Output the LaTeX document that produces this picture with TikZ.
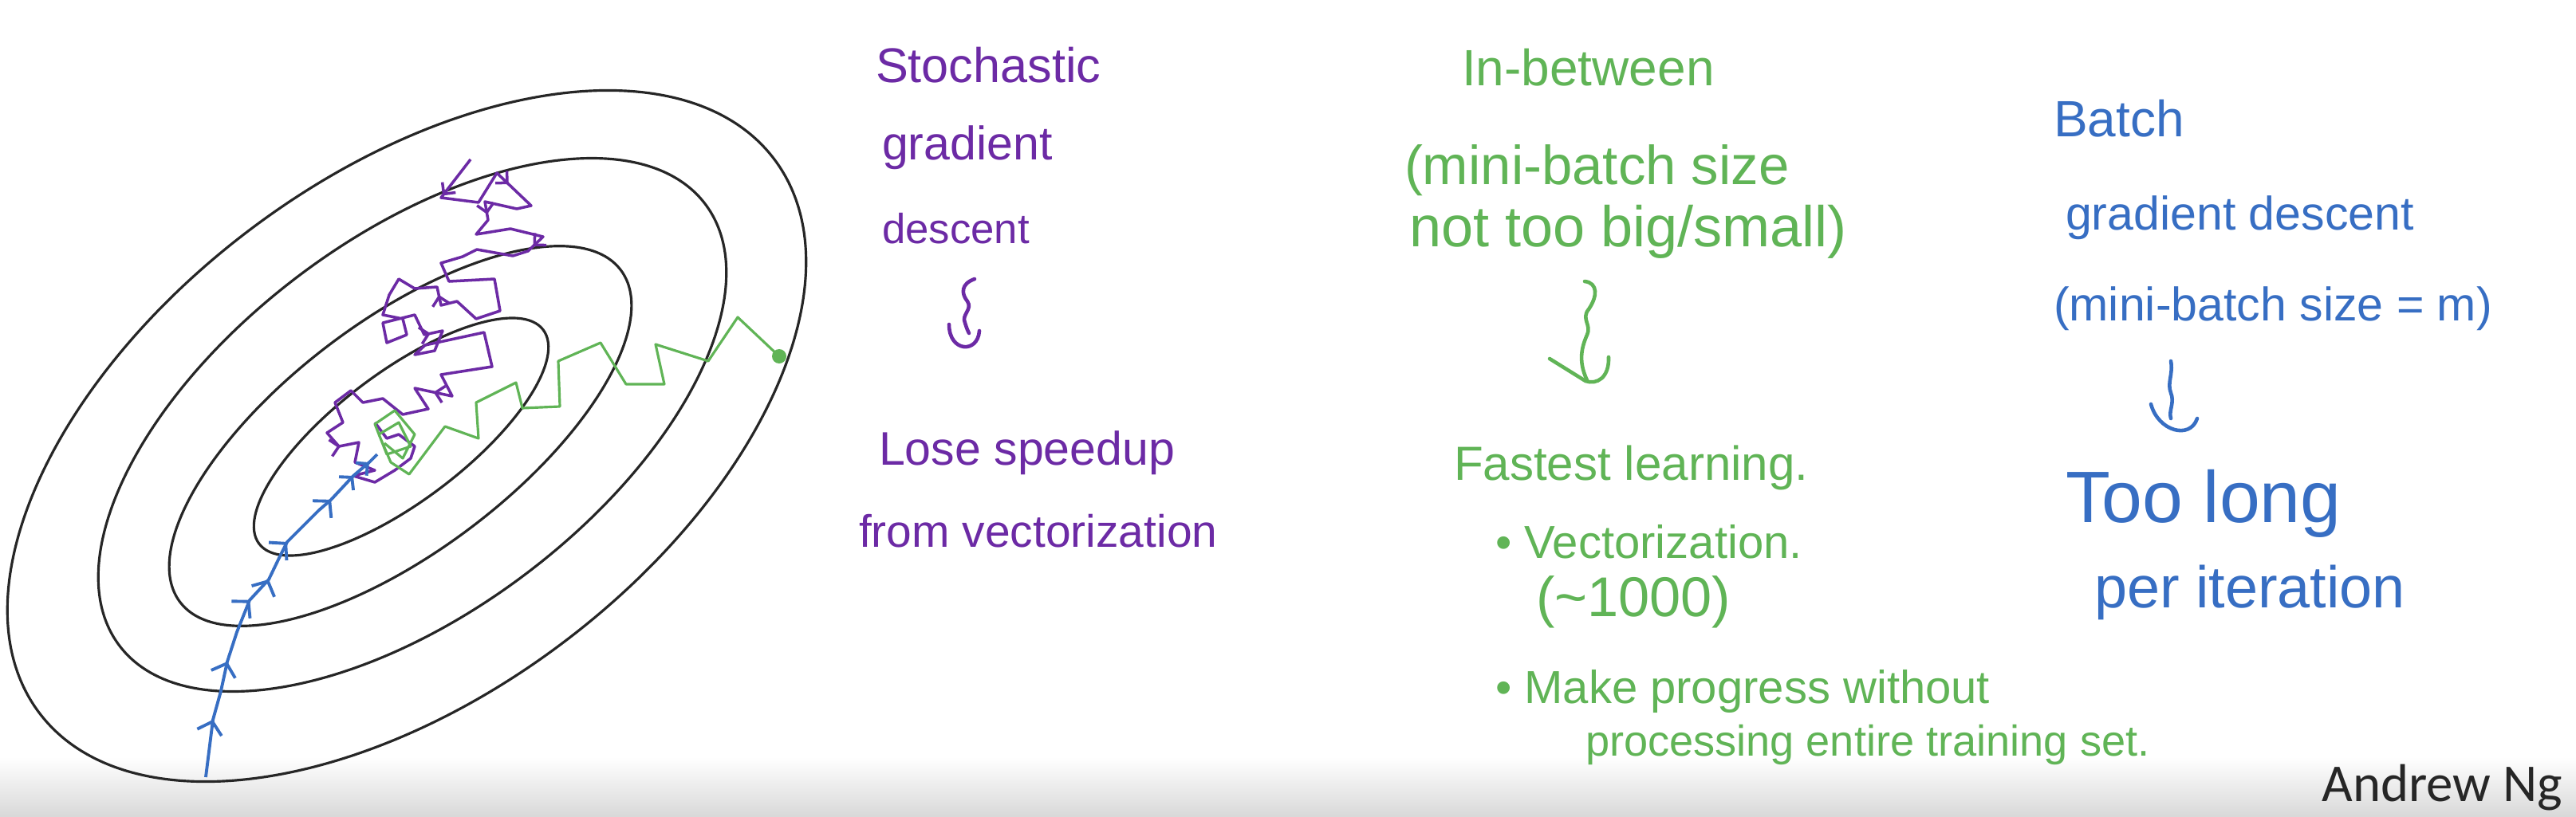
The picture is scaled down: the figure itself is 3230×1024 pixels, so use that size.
\documentclass[tikz,border=0pt]{standalone}
\usepackage{fontspec}
\setmainfont{Liberation Sans}
\newfontfamily\ngfont{Carlito}
\usetikzlibrary{decorations.markings,arrows.meta}
\definecolor{purp}{RGB}{108,42,165}
\definecolor{grn}{RGB}{96,180,86}
\definecolor{blu}{RGB}{55,110,195}
\newcommand{\tsz}[1]{\fontsize{#1}{#1}\selectfont}
\begin{document}
\begin{tikzpicture}[x=0.01cm,y=-0.01cm,
  contour/.style={line width=0.9pt, black!85},
  bpath/.style={blu, line width=1.1pt, line join=round},
  ppath/.style={purp, line width=1pt, line join=round},
  gpath/.style={grn, line width=0.9pt, line join=round},
  lbl/.style={anchor=base west, inner sep=0pt, outer sep=0pt},
  ptxt/.style={lbl, text=purp},
  gtxt/.style={lbl, text=grn},
  btxt/.style={lbl, text=blu},
  sqline/.style={line width=1.3pt, line cap=round, line join=round}
]
\useasboundingbox (0,0) rectangle (3230,1024);
\fill[white] (0,0) rectangle (3230,1024);
\shade[top color=white, bottom color=black!15] (0,950) rectangle (3230,1024);

% contours
\draw[contour, rotate around={37:(510,547)}] (510,547) ellipse [x radius=577, y radius=325];
\draw[contour, rotate around={37:(517,533)}] (517,533) ellipse [x radius=460, y radius=235];
\draw[contour, rotate around={37:(502,547)}] (502,547) ellipse [x radius=346, y radius=145];
\draw[contour, rotate around={37:(503,548)}] (503,548) ellipse [x radius=223, y radius=81];

% stochastic path (purple)
\draw[ppath, postaction={decorate}, decoration={markings,
    mark=at position 0.03 with {\arrow{Straight Barb[length=3pt,width=6pt]}},
    mark=at position 0.09 with {\arrow{Straight Barb[length=3pt,width=6pt]}},
    mark=at position 0.15 with {\arrow{Straight Barb[length=3pt,width=6pt]}},
    mark=at position 0.22 with {\arrow{Straight Barb[length=3pt,width=6pt]}},
    mark=at position 0.40 with {\arrow{Straight Barb[length=3pt,width=6pt]}},
    mark=at position 0.55 with {\arrow{Straight Barb[length=3pt,width=6pt]}},
    mark=at position 0.72 with {\arrow{Straight Barb[length=3pt,width=6pt]}},
    mark=at position 0.86 with {\arrow{Straight Barb[length=3pt,width=6pt]}}}]
  (590,200) -- (553,248) -- (600,254) -- (623,217) -- (666,258) -- (648,262) -- (608,253)
  -- (612,276) -- (597,294) -- (640,287) -- (681,297) -- (662,315) -- (643,321) -- (598,313)
  -- (580,322) -- (553,330) -- (563,353) -- (620,350) -- (627,390) -- (597,400) -- (573,378)
  -- (553,383) -- (548,360) -- (520,362) -- (500,350) -- (488,370) -- (480,395) -- (505,400)
  -- (510,420) -- (485,430) -- (480,405) -- (520,395) -- (532,420) -- (555,415) -- (545,440)
  -- (520,445) -- (533,433) -- (607,417) -- (617,460) -- (553,470) -- (567,497) -- (520,487)
  -- (537,513) -- (505,520) -- (480,500) -- (455,505) -- (440,490) -- (420,505) -- (430,530)
  -- (410,543) -- (425,560) -- (450,555) -- (445,580) -- (470,590) -- (443,597) -- (470,605)
  -- (495,590) -- (515,575) -- (520,560) -- (500,545) -- (485,550) -- (470,530);

% batch path (blue)
\draw[bpath, postaction={decorate}, decoration={markings,
    mark=at position 0.153 with {\arrow{Straight Barb[length=4pt,width=9pt,line width=1.1pt]}},
    mark=at position 0.311 with {\arrow{Straight Barb[length=4pt,width=9pt,line width=1.1pt]}},
    mark=at position 0.484 with {\arrow{Straight Barb[length=4pt,width=9pt,line width=1.1pt]}},
    mark=at position 0.558 with {\arrow{Straight Barb[length=4pt,width=9pt,line width=1.1pt]}},
    mark=at position 0.668 with {\arrow{Straight Barb[length=4pt,width=9pt,line width=1.1pt]}},
    mark=at position 0.829 with {\arrow{Straight Barb[length=4pt,width=9pt,line width=1.1pt]}},
    mark=at position 0.915 with {\arrow{Straight Barb[length=3pt,width=7pt,line width=1.1pt]}},
    mark=at position 0.97 with {\arrow{Straight Barb[length=3pt,width=6pt,line width=1.1pt]}}}]
  (258,975) -- (267,903) -- (277,867) -- (285,830) -- (297,793) -- (313,753) -- (337,727)
  -- (350,700) -- (360,680) -- (377,663) -- (400,640) -- (415,627) -- (443,597) -- (463,580) -- (473,570);

% mini-batch path (green)
\draw[gpath] (977,447) -- (925,398) -- (888,453) -- (822,432) -- (833,482) -- (785,482)
  -- (753,430) -- (700,453) -- (702,510) -- (655,512) -- (647,480) -- (597,505) -- (600,550)
  -- (558,535) -- (513,595) -- (490,580) -- (475,545) -- (500,530) -- (515,560) -- (485,570)
  -- (470,532) -- (495,515) -- (520,545) -- (505,575) -- (482,556);
\fill[grn] (977,447) circle (9);

% Stochastic column (purple)
\node[ptxt, font=\tsz{17.4}] (s1) at (1098,103) {Stochastic};
\node[ptxt, font=\tsz{16.8}] (s2) at (1106,200) {gradient};
\node[ptxt, font=\tsz{15}] (s3) at (1106,305) {descent};
\node[ptxt, font=\tsz{16.8}] (s4) at (1102,583) {Lose speedup};
\node[ptxt, font=\tsz{16.2}] (s5) at (1077,686) {from vectorization};

% In-between column (green)
\node[gtxt, font=\tsz{18.2}] (m1) at (1833,107) {In-between};
\node[gtxt, font=\tsz{19.6}] (m2) at (1761,231) {(mini-batch size};
\node[gtxt, font=\tsz{20.5}] (m3) at (1767,309) {not too big/small)};
\node[gtxt, font=\tsz{17.1}] (m4) at (1823,602) {Fastest learning.};
\node[gtxt, font=\tsz{16.5}] (m5) at (1875,700) {\textbullet\ Vectorization.};
\node[gtxt, font=\tsz{20}] (m6) at (1926,773) {(\textasciitilde1000)};
\node[gtxt, font=\tsz{16.5}] (m7) at (1875,882) {\textbullet\ Make progress without};
\node[gtxt, font=\tsz{15.4}] (m8) at (1988,948) {processing entire training set.};

% Batch column (blue)
\node[btxt, font=\tsz{18.2}] (b1) at (2575,171) {Batch};
\node[btxt, font=\tsz{16.8}] (b2) at (2590,288) {gradient descent};
\node[btxt, font=\tsz{16.8}] (b3) at (2575,402) {(mini-batch size = m)};
\node[btxt, font=\tsz{26}] (b4) at (2590,655) {Too long};
\node[btxt, font=\tsz{21}] (b5) at (2626,762) {per iteration};

% squiggly arrows (wavy stem + cup-shaped head)
\coordinate (sa) at (1222,350);
\coordinate (sb) at (1215,418);
\draw[purp, sqline] (sa) .. controls (1205,356) and (1205,368) .. (1213,378)
  .. controls (1220,388) and (1205,395) .. (1210,405) .. controls (1212,412) and (1214,416) .. (sb);
\draw[purp, sqline] (1190,407) .. controls (1190,442) and (1226,444) .. (1228,415);

\coordinate (ga) at (1987,353);
\coordinate (gb) at (1990,477);
\draw[grn, sqline] (ga) .. controls (2004,355) and (2003,372) .. (1992,388)
  .. controls (1982,400) and (1996,408) .. (1990,420) .. controls (1984,434) and (1978,452) .. (gb);
\draw[grn, sqline] (1943,450) -- (1988,478) .. controls (2002,483) and (2018,474) .. (2017,448);

\coordinate (ba) at (2722,453);
\coordinate (bb) at (2722,525);
\draw[blu, sqline] (ba) .. controls (2725,470) and (2717,480) .. (2722,493)
  .. controls (2727,505) and (2719,515) .. (bb);
\draw[blu, sqline] (2697,507) .. controls (2706,541) and (2746,552) .. (2755,525);

% footer
\node[anchor=base east, inner sep=0pt, font=\ngfont\tsz{19}, text=black!85] (ng) at (3214,1005) {Andrew Ng};
\end{tikzpicture}
\end{document}
